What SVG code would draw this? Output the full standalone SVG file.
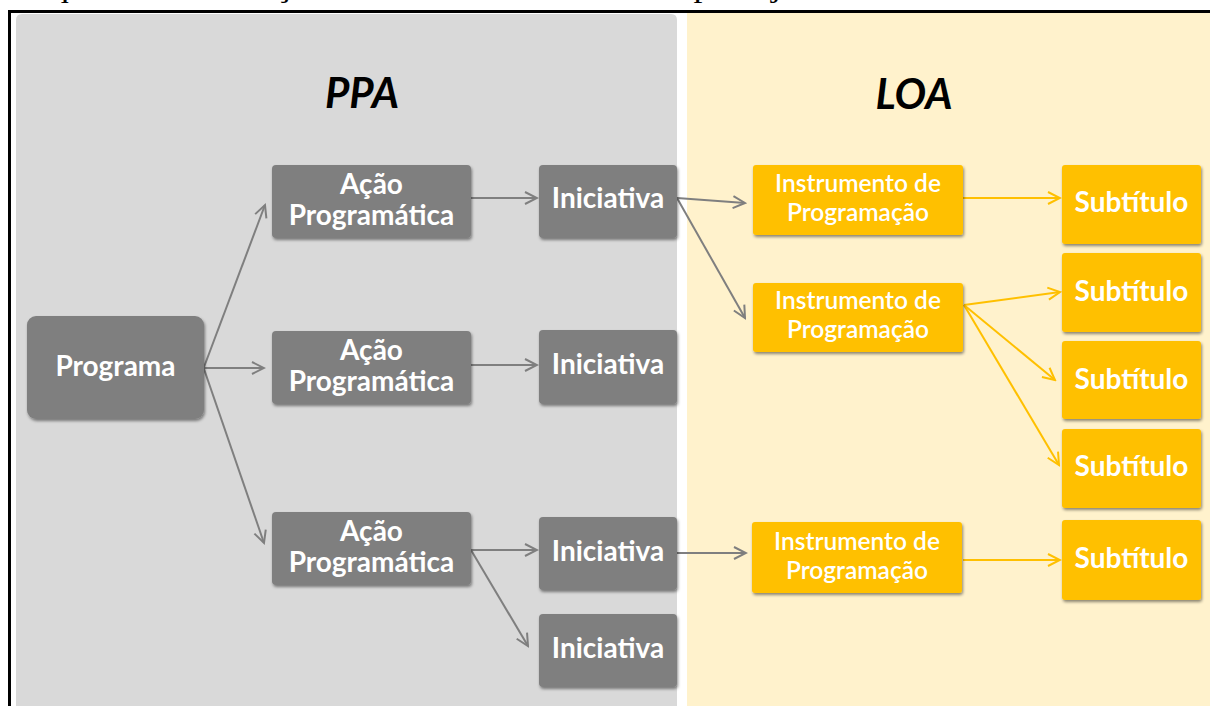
<svg xmlns="http://www.w3.org/2000/svg" width="1210" height="706" viewBox="0 0 1210 706">
<defs>
<style>
.gn{fill:#7F7F7F;filter:url(#sh)}
.yn{fill:#FFC000;filter:url(#sh)}
.t{font-family:Lato,"Liberation Sans",sans-serif;font-weight:700;fill:#FFFFFF;text-anchor:middle}
.tb{font-size:28px}
.ti{font-size:24.5px;font-weight:600}
.title{font-family:Lato,"Liberation Sans",sans-serif;font-weight:700;font-style:italic;font-size:42px;fill:#000;text-anchor:middle}
.gc{stroke:#7F7F7F;stroke-width:2;fill:none;marker-end:url(#ag)}
.yc{stroke:#FFC000;stroke-width:2;fill:none;marker-end:url(#ay)}
</style>
<filter id="sh" x="-10%" y="-10%" width="125%" height="130%">
<feDropShadow dx="1" dy="2" stdDeviation="1.5" flood-color="#000" flood-opacity="0.45"/>
</filter>
<marker id="ag" markerUnits="userSpaceOnUse" viewBox="-14 -8 16 16" markerWidth="16" markerHeight="16" refX="0" refY="0" orient="auto">
<path d="M-12,-6 L0,0 L-12,6" fill="none" stroke="#7F7F7F" stroke-width="2"/>
</marker>
<marker id="ay" markerUnits="userSpaceOnUse" viewBox="-14 -8 16 16" markerWidth="16" markerHeight="16" refX="0" refY="0" orient="auto">
<path d="M-12,-6 L0,0 L-12,6" fill="none" stroke="#FFC000" stroke-width="2"/>
</marker>
</defs>
<rect x="0" y="0" width="1210" height="706" fill="#FFFFFF"/>
<text x="15" y="-3" font-family="'Liberation Serif',serif" font-size="30" textLength="872" lengthAdjust="spacingAndGlyphs" fill="#000">Esquema 5 – Relação entre os instrumentos de planejamento</text>
<g id="frame">
<rect x="9.5" y="11.5" width="1230" height="720" fill="none" stroke="#000" stroke-width="3"/>
<path d="M16,20 Q16,14 22,14 L671,14 Q677,14 677,20 L677,706 L16,706 Z" fill="#D9D9D9"/>
<rect x="687" y="13" width="523" height="693" fill="#FFF2CC"/>
</g>
<text class="title" x="362" y="108">PPA</text>
<text class="title" x="914" y="109">LOA</text>
<g id="connectors">
<line class="gc" x1="204" y1="367" x2="265" y2="205"/>
<line class="gc" x1="204" y1="368" x2="264" y2="368"/>
<line class="gc" x1="204" y1="369" x2="264" y2="543"/>
<line class="gc" x1="471" y1="198" x2="537" y2="198"/>
<line class="gc" x1="471" y1="365" x2="537" y2="365"/>
<line class="gc" x1="471" y1="550" x2="537" y2="550"/>
<line class="gc" x1="471" y1="550" x2="528" y2="646"/>
<line class="gc" x1="677" y1="198" x2="745" y2="203"/>
<line class="gc" x1="677" y1="198" x2="745" y2="318"/>
<line class="gc" x1="677" y1="553" x2="746" y2="553"/>
<line class="yc" x1="963" y1="198" x2="1060" y2="198"/>
<line class="yc" x1="964" y1="305" x2="1060" y2="292"/>
<line class="yc" x1="964" y1="305" x2="1055" y2="380"/>
<line class="yc" x1="964" y1="305" x2="1059" y2="465"/>
<line class="yc" x1="963" y1="560" x2="1060" y2="560"/>
</g>
<g id="programa"><rect class="gn" x="27" y="316" width="177" height="103" rx="9"/><text class="t tb" x="115.5" y="376">Programa</text></g>
<g id="acao1"><rect class="gn" x="272" y="165" width="199" height="73" rx="4"/><text class="t tb" x="371.5" y="194">Ação</text><text class="t tb" x="371.5" y="225">Programática</text></g>
<g id="acao2"><rect class="gn" x="272" y="331" width="199" height="73" rx="4"/><text class="t tb" x="371.5" y="360">Ação</text><text class="t tb" x="371.5" y="391">Programática</text></g>
<g id="acao3"><rect class="gn" x="272" y="512" width="199" height="73" rx="4"/><text class="t tb" x="371.5" y="541">Ação</text><text class="t tb" x="371.5" y="572">Programática</text></g>
<g id="ini1"><rect class="gn" x="539" y="165" width="138" height="73" rx="4"/><text class="t tb" x="608" y="208">Iniciativa</text></g>
<g id="ini2"><rect class="gn" x="539" y="330" width="138" height="74" rx="4"/><text class="t tb" x="608" y="374">Iniciativa</text></g>
<g id="ini3"><rect class="gn" x="539" y="517" width="138" height="73" rx="4"/><text class="t tb" x="608" y="561">Iniciativa</text></g>
<g id="ini4"><rect class="gn" x="539" y="614" width="138" height="73" rx="4"/><text class="t tb" x="608" y="658">Iniciativa</text></g>
<g id="instr1"><rect class="yn" x="753" y="165" width="210" height="70" rx="3"/><text class="t ti" x="858" y="192">Instrumento de</text><text class="t ti" x="858" y="221">Programação</text></g>
<g id="instr2"><rect class="yn" x="753" y="283" width="210" height="69" rx="3"/><text class="t ti" x="858" y="309">Instrumento de</text><text class="t ti" x="858" y="338">Programação</text></g>
<g id="instr3"><rect class="yn" x="752" y="522" width="210" height="71" rx="3"/><text class="t ti" x="857" y="550">Instrumento de</text><text class="t ti" x="857" y="579">Programação</text></g>
<g id="sub1"><rect class="yn" x="1062" y="165" width="139" height="79" rx="3"/><text class="t tb" x="1131.5" y="212">Subtítulo</text></g>
<g id="sub2"><rect class="yn" x="1062" y="253" width="139" height="79" rx="3"/><text class="t tb" x="1131.5" y="301">Subtítulo</text></g>
<g id="sub3"><rect class="yn" x="1062" y="341" width="139" height="78" rx="3"/><text class="t tb" x="1131.5" y="389">Subtítulo</text></g>
<g id="sub4"><rect class="yn" x="1062" y="429" width="139" height="79" rx="3"/><text class="t tb" x="1131.5" y="476">Subtítulo</text></g>
<g id="sub5"><rect class="yn" x="1062" y="520" width="139" height="80" rx="3"/><text class="t tb" x="1131.5" y="568">Subtítulo</text></g>
</svg>
